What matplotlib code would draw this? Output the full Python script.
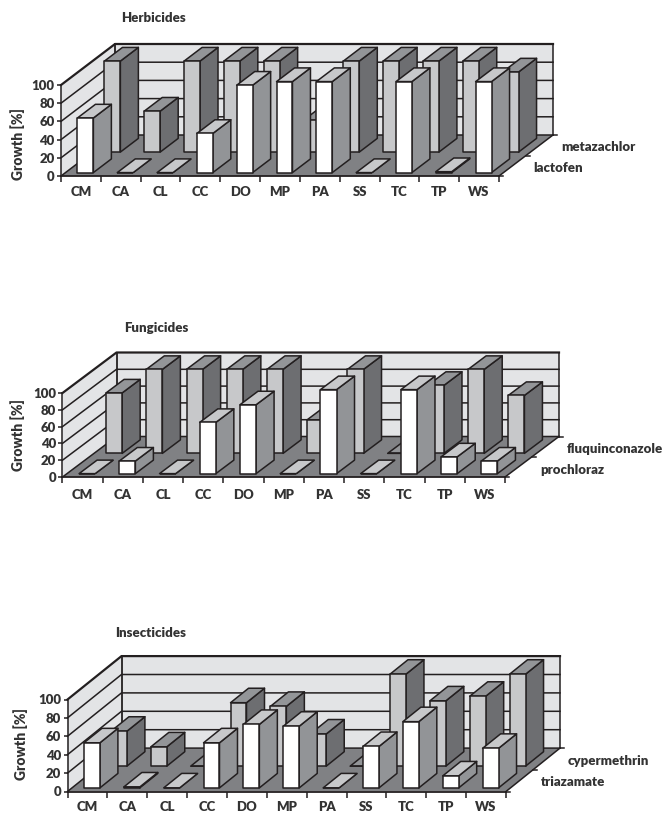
import matplotlib
matplotlib.use("Agg")
import matplotlib.pyplot as plt
from matplotlib.patches import Polygon

plt.rcParams['font.family'] = ['Lato', 'DejaVu Sans']
plt.rcParams['font.weight'] = 'heavy'

# data
categories = ["CM", "CA", "CL", "CC", "DO", "MP", "PA", "SS", "TC", "TP", "WS"]
yticks = [0, 20, 40, 60, 80, 100]

lactofen = [60, 0, 0, 43, 96, 100, 100, 0, 100, 1, 100]
metazachlor = [100, 45, 100, 100, 100, 35, 100, 100, 100, 100, 88]
prochloraz = [0, 15, 0, 61, 82, 0, 100, 0, 100, 20, 15]
fluquinconazole = [72, 100, 100, 100, 100, 40, 100, 0, 81, 100, 69]
triazamate = [49, 1, 0, 49, 69, 67, 0, 45, 72, 13, 43]
cypermethrin = [38, 21, 0, 69, 65, 35, 0, 100, 71, 76, 100]

W, H = 667, 814
INK = "#231f20"
TEXT = "#333333"
WALL = "#e3e4e6"
FLOOR = "#808184"
# face, side, top
FRONT_COL = ("#ffffff", "#929497", "#c7c8ca")
BACK_COL = ("#c7c8ca", "#6d6e71", "#939598")

fig = plt.figure(figsize=(W / 100, H / 100), dpi=100)


def draw_bar(ax, cat, val, row, dx, dy, cols):
    # bar of one series, depth row 0 = front, 1 = back
    def p(x, v, z):
        return (x + z * dx, v + z * dy)
    x0, x1 = cat + 0.3, cat + 0.7
    z0, z1 = row + 1 / 6, row + 5 / 6
    zo = 5 + (1 - row) * 5
    style = dict(ec=INK, lw=1.1, clip_on=False, zorder=zo, joinstyle="round")
    ax.add_patch(Polygon([p(x1, 0, z0), p(x1, val, z0), p(x1, val, z1), p(x1, 0, z1)], fc=cols[1], **style))
    ax.add_patch(Polygon([p(x0, val, z0), p(x1, val, z0), p(x1, val, z1), p(x0, val, z1)], fc=cols[2], **style))
    ax.add_patch(Polygon([p(x0, 0, z0), p(x1, 0, z0), p(x1, val, z0), p(x0, val, z0)], fc=cols[0], **style))


def draw_panel(left, right, y0, y100, dx_px, dy_px, title, title_x, title_y,
               ylab_x, ylab_y, front, back, front_name, back_name, front_xy, back_xy, pad):
    ax = fig.add_axes([left / W, 1 - y0 / H, (right - left) / W, (y0 - y100) / H])
    ax.set_xlim(0, len(categories))
    ax.set_ylim(0, 100)
    ax.patch.set_visible(False)
    for s in ax.spines.values():
        s.set_visible(False)
    n = len(categories)
    # depth of one row, in data units
    dx = dx_px / (right - left) * n / 2
    dy = dy_px / (y0 - y100) * 100 / 2

    # walls and floor
    ax.add_patch(Polygon([(0, 0), (0, 100), (2 * dx, 100 + 2 * dy), (2 * dx, 2 * dy)],
                         fc=WALL, ec="none", clip_on=False, zorder=1))
    ax.add_patch(Polygon([(2 * dx, 2 * dy), (2 * dx, 100 + 2 * dy), (n + 2 * dx, 100 + 2 * dy), (n + 2 * dx, 2 * dy)],
                         fc=WALL, ec="none", clip_on=False, zorder=1))
    ax.add_patch(Polygon([(0, 0), (n, 0), (n + 2 * dx, 2 * dy), (2 * dx, 2 * dy)],
                         fc=FLOOR, ec="none", clip_on=False, zorder=2))
    for t in yticks:
        lw = 1.6 if t == 100 else 1.1
        ax.plot([0, 2 * dx, n + 2 * dx], [t, t + 2 * dy, t + 2 * dy], color=INK, lw=lw, clip_on=False, zorder=3)
    ax.plot([0, 0], [0, 100], color=INK, lw=1.1, clip_on=False, zorder=3)
    ax.plot([2 * dx, 2 * dx], [2 * dy, 100 + 2 * dy], color=INK, lw=1.3, clip_on=False, zorder=3)
    ax.plot([n + 2 * dx, n + 2 * dx], [2 * dy, 100 + 2 * dy], color=INK, lw=1.1, clip_on=False, zorder=3)
    ax.plot([0, n], [0, 0], color=INK, lw=1.3, clip_on=False, zorder=20)
    ax.plot([n, n + 2 * dx], [0, 2 * dy], color=INK, lw=1.1, clip_on=False, zorder=20)
    # depth ticks on the right edge
    for r in range(3):
        ax.plot([n + r * dx, n + r * dx + 0.1], [r * dy, r * dy], color=INK, lw=1.1, clip_on=False, zorder=20)

    # bars, back row first
    for i in range(n):
        draw_bar(ax, i, back[i], 1, dx, dy, BACK_COL)
    for i in range(n):
        draw_bar(ax, i, front[i], 0, dx, dy, FRONT_COL)

    # axes
    ax.set_yticks(yticks)
    ax.set_xticks(range(n + 1))
    ax.set_xticklabels([])
    ax.set_xticks([i + 0.5 for i in range(n)], minor=True)
    ax.set_xticklabels(categories, minor=True, fontsize=9.5, color=TEXT)
    ax.tick_params(axis="x", which="minor", length=0, pad=pad)
    ax.tick_params(axis="x", which="major", length=4, width=1.1, color=INK)
    ax.tick_params(axis="y", length=3, width=1.1, color=INK, labelsize=9.5, labelcolor=TEXT, pad=1.5)
    fig.text(ylab_x / W, 1 - ylab_y / H, "Growth [%]", rotation=90, ha="center", va="center",
             fontsize=10, color=TEXT)
    fig.text(title_x / W, 1 - title_y / H, title, ha="center", va="center", fontsize=9.5, color=TEXT)
    fig.text(front_xy[0] / W, 1 - front_xy[1] / H, front_name, ha="left", va="center", fontsize=9.5, color=TEXT)
    fig.text(back_xy[0] / W, 1 - back_xy[1] / H, back_name, ha="left", va="center", fontsize=9.5, color=TEXT)


draw_panel(61, 499, 176, 85, 54, 41, "Herbicides", 154, 18, 18, 144,
           lactofen, metazachlor, "lactofen", "metazachlor", (533, 168), (561, 147), 7.5)
draw_panel(62.5, 505, 477, 393, 54, 40.5, "Fungicides", 156, 328, 18, 435,
           prochloraz, fluquinconazole, "prochloraz", "fluquinconazole", (540, 470), (567, 449), 8.5)
draw_panel(67.5, 506, 791.5, 699.5, 54, 43.4, "Insecticides", 151, 633, 21, 744,
           triazamate, cypermethrin, "triazamate", "cypermethrin", (541, 782), (568, 761), 7)

fig.savefig("out.png", dpi=100)
